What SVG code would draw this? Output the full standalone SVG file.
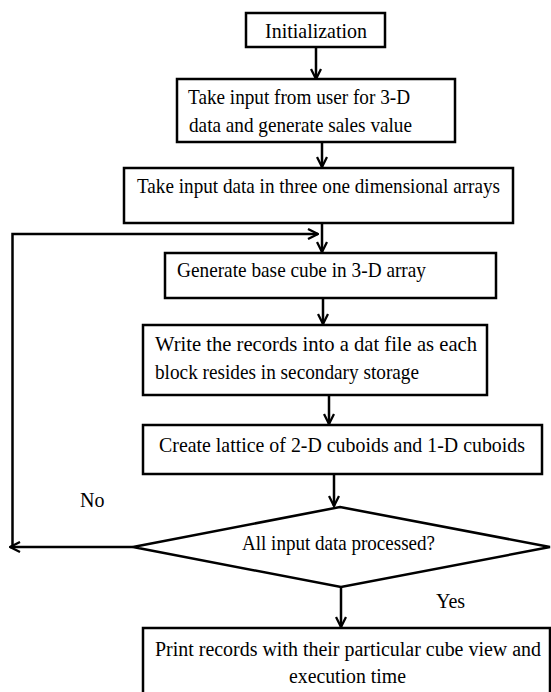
<svg xmlns="http://www.w3.org/2000/svg" width="551" height="692" viewBox="0 0 551 692">
  <style>
    .box { fill: #ffffff; stroke: #000000; stroke-width: 2.5; }
    .lbl { font-family: "Liberation Serif", "Times New Roman", serif; font-size: 21px; fill: #000000; }
    .tag { font-family: "Liberation Serif", "Times New Roman", serif; font-size: 20px; fill: #000000; }
    .edge { fill: none; stroke: #000000; stroke-width: 2.5; }
  </style>
  <defs>
    <marker id="arrow" viewBox="0 0 12 12" refX="11" refY="6" markerWidth="12" markerHeight="12" markerUnits="userSpaceOnUse" orient="auto">
      <path d="M1,1 L11,6 L1,11" fill="none" stroke="#000000" stroke-width="2.3"/>
    </marker>
  </defs>
  <rect width="551" height="692" fill="#ffffff"/>

  <g id="connectors">
    <path class="edge" d="M316,47 L316,79" marker-end="url(#arrow)"/>
    <path class="edge" d="M322,142 L322,167" marker-end="url(#arrow)"/>
    <path class="edge" d="M322,223 L322,252" marker-end="url(#arrow)"/>
    <path class="edge" d="M12.5,547 L12.5,234 L318,234" marker-end="url(#arrow)"/>
    <path class="edge" d="M323,298 L323,324" marker-end="url(#arrow)"/>
    <path class="edge" d="M329,395 L329,424" marker-end="url(#arrow)"/>
    <path class="edge" d="M334,474 L334,506" marker-end="url(#arrow)"/>
    <path class="edge" d="M133,547 L10,547" marker-end="url(#arrow)"/>
    <path class="edge" d="M341,587 L341,627" marker-end="url(#arrow)"/>
  </g>

  <g id="init">
    <rect class="box" x="246" y="13" width="139" height="34"/>
    <text class="lbl" x="265" y="38" textLength="102" lengthAdjust="spacingAndGlyphs">Initialization</text>
  </g>

  <g id="user-input">
    <rect class="box" x="177" y="79" width="278" height="63"/>
    <text class="lbl" x="188" y="104" textLength="222" lengthAdjust="spacingAndGlyphs">Take input from user for 3-D</text>
    <text class="lbl" x="189" y="132" textLength="223" lengthAdjust="spacingAndGlyphs">data and generate sales value</text>
  </g>

  <g id="arrays">
    <rect class="box" x="124" y="168" width="389" height="55"/>
    <text class="lbl" x="137" y="193" textLength="363" lengthAdjust="spacingAndGlyphs">Take input data in three one dimensional arrays</text>
  </g>

  <g id="base-cube">
    <rect class="box" x="165" y="253" width="331" height="45"/>
    <text class="lbl" x="177" y="277" textLength="249" lengthAdjust="spacingAndGlyphs">Generate base cube in 3-D array</text>
  </g>

  <g id="write-records">
    <rect class="box" x="143" y="325" width="344" height="70"/>
    <text class="lbl" x="155" y="351" textLength="322" lengthAdjust="spacingAndGlyphs">Write the records into a dat file as each</text>
    <text class="lbl" x="155" y="379" textLength="264" lengthAdjust="spacingAndGlyphs">block resides in secondary storage</text>
  </g>

  <g id="lattice">
    <rect class="box" x="143" y="425" width="399" height="49"/>
    <text class="lbl" x="159" y="452" textLength="366" lengthAdjust="spacingAndGlyphs">Create lattice of 2-D cuboids and 1-D cuboids</text>
  </g>

  <g id="decision">
    <polygon class="box" points="340,507 550,547 341,587 133,547"/>
    <text class="lbl" x="242" y="550" textLength="193" lengthAdjust="spacingAndGlyphs">All input data processed?</text>
  </g>

  <g id="edge-labels">
    <text class="tag" x="80" y="507">No</text>
    <text class="tag" x="436" y="608">Yes</text>
  </g>

  <g id="output">
    <rect class="box" x="143" y="628" width="407" height="80"/>
    <text class="tag" x="155" y="656" textLength="386" lengthAdjust="spacingAndGlyphs">Print records with their particular cube view and</text>
    <text class="lbl" x="289" y="683" textLength="117" lengthAdjust="spacingAndGlyphs">execution time</text>
  </g>
</svg>
